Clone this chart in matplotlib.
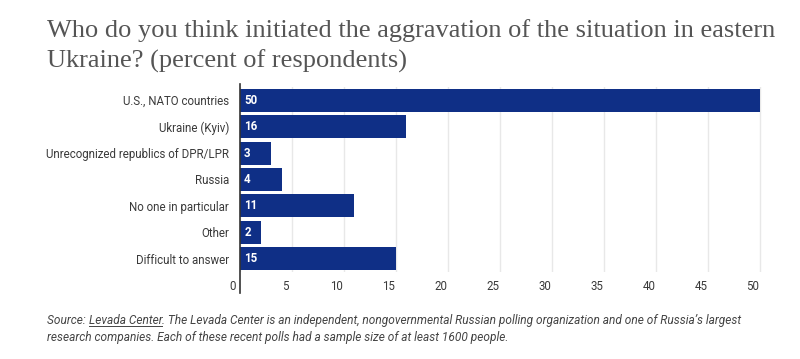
import matplotlib
matplotlib.use('Agg')
import matplotlib.pyplot as plt
import matplotlib.transforms as mtransforms

# data
categories = ['U.S., NATO countries', 'Ukraine (Kyiv)', 'Unrecognized republics of DPR/LPR',
              'Russia', 'No one in particular', 'Other', 'Difficult to answer']
values = [50, 16, 3, 4, 11, 2, 15]
xticks = [0, 5, 10, 15, 20, 25, 30, 35, 40, 45, 50]

bar_color = '#0f2f86'
text_gray = '#555555'

fig = plt.figure(figsize=(8, 3.59), dpi=100)
fig.patch.set_facecolor('white')

# title
fig.text(47/800, 1 - 37/359, 'Who do you think initiated the aggravation of the situation in eastern',
         fontsize=19, family='Liberation Serif', color=text_gray, va='baseline')
fig.text(47/800, 1 - 68/359, 'Ukraine? (percent of respondents)',
         fontsize=19, family='Liberation Serif', color=text_gray, va='baseline')

ax = fig.add_axes([240/800, 1 - 272/359, 522/800, (272 - 87)/359])
y = list(range(len(categories)))
ax.barh(y, values, height=0.87, color=bar_color, zorder=3)
ax.set_ylim(len(categories) - 0.5, -0.5)
ax.set_xlim(0, 50.2)

for yi, v in zip(y, values):
    ax.text(0.4, yi, str(v), color='white', fontsize=8.3, fontweight='bold',
            family='Roboto', va='center', ha='left', zorder=4)

ax.set_yticks(y)
ax.set_yticklabels(categories, fontsize=8.3, family='Roboto', color='#3a3a3a')
ax.tick_params(axis='y', length=0, pad=8)

ax.set_xticks(xticks)
ax.set_xticklabels([str(t) for t in xticks], fontsize=8.3, family='Roboto', color='#3a3a3a')
ax.tick_params(axis='x', length=0, pad=6)
# labels sit a little left of their gridlines in the original
offset = mtransforms.ScaledTranslation(-7/100, 0, fig.dpi_scale_trans)
for lab in ax.get_xticklabels():
    lab.set_transform(lab.get_transform() + offset)

ax.grid(axis='x', color='#e8e8e8', linewidth=1, zorder=0)
for s in ['top', 'right', 'bottom']:
    ax.spines[s].set_visible(False)
ax.spines['left'].set_color('#333333')
ax.spines['left'].set_linewidth(1.2)
ax.spines['left'].set_bounds(-0.6, len(categories) + 0.3)
ax.spines['left'].set_zorder(5)
ax.set_facecolor('white')

# source note, pieces placed one after another
renderer = fig.canvas.get_renderer()
src_kw = dict(fontsize=8.6, style='italic', family='Roboto', color='#444444', va='baseline')
x0 = 47
base1 = 1 - 324/359
pieces = ['Source: ', 'Levada Center',
          '. The Levada Center is an independent, nongovernmental Russian polling '
          'organization and one of Russia\u2019s largest']
xpos = x0
for i, p in enumerate(pieces):
    t = fig.text(xpos/800, base1, p, **src_kw)
    bb = t.get_window_extent(renderer)
    if i == 1:
        fig.add_artist(plt.Line2D([bb.x0/800, bb.x1/800], [base1 - 2/359, base1 - 2/359],
                                  color='#444444', linewidth=0.7))
    xpos = bb.x1
fig.text(x0/800, 1 - 341/359, 'research companies. Each of these recent polls had a sample size of at least 1600 people.',
         **src_kw)

fig.savefig('out.png', dpi=100, facecolor='white')
